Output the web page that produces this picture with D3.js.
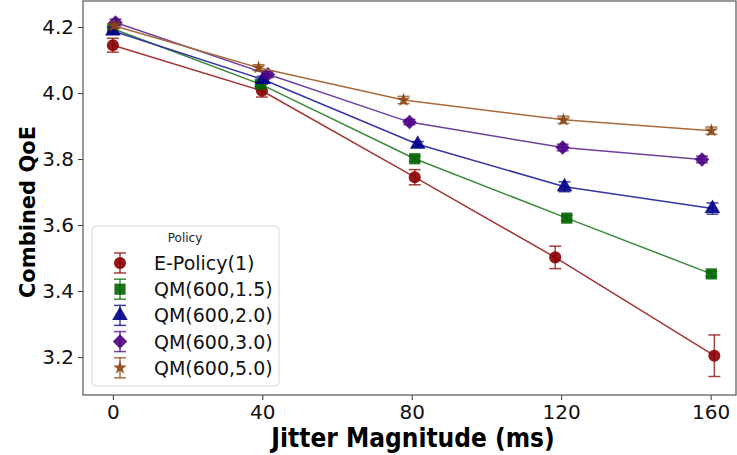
<!DOCTYPE html>
<html>
<head>
<meta charset="utf-8">
<script src="https://cdn.jsdelivr.net/npm/d3@7"></script>
<style>
  body { margin: 0; background: #fff; }
  .canvas svg { display: block; }
  text { font-family: "DejaVu Sans", sans-serif; }
</style>
</head>
<body>
<div class="canvas"></div>
<script>
// data
const policies = ['E-Policy(1)', 'QM(600,1.5)', 'QM(600,2.0)', 'QM(600,3.0)', 'QM(600,5.0)'];
const xTicks = [0, 40, 80, 120, 160];
const yTicks = [3.2, 3.4, 3.6, 3.8, 4.0, 4.2];

// jittered x positions of each point (ms)
const xEPolicy = [0, 39.9, 80.8, 118.4, 161.0];
const xQM15 = [0, 39.5, 80.8, 121.5, 160.2];
const xQM20 = [0, 40.2, 81.6, 120.9, 160.5];
const xQM30 = [0.7, 41.5, 79.4, 120.4, 157.7];
const xQM50 = [0.3, 39.0, 77.8, 120.6, 160.2];

// mean values
const yEPolicy = [4.145, 4.007, 3.745, 3.502, 3.204];
const yQM15 = [4.195, 4.027, 3.801, 3.621, 3.452];
const yQM20 = [4.188, 4.041, 3.845, 3.716, 3.650];
const yQM30 = [4.214, 4.057, 3.912, 3.835, 3.799];
const yQM50 = [4.204, 4.077, 3.979, 3.919, 3.886];

// error bar half widths
const eEPolicy = [0.021, 0.019, 0.023, 0.034, 0.063];
const eQM15 = [0.008, 0.008, 0.008, 0.008, 0.008];
const eQM20 = [0.010, 0.010, 0.008, 0.015, 0.017];
const eQM30 = [0.010, 0.010, 0.008, 0.010, 0.010];
const eQM50 = [0.008, 0.009, 0.011, 0.011, 0.011];

const series = [
  {name: policies[0], x: xEPolicy, y: yEPolicy, e: eEPolicy, marker: 'circle',   color: '#8b0000', line: '#a33535'},
  {name: policies[1], x: xQM15,    y: yQM15,    e: eQM15,    marker: 'square',   color: '#006400', line: '#3a8a3a'},
  {name: policies[2], x: xQM20,    y: yQM20,    e: eQM20,    marker: 'triangle', color: '#00008b', line: '#3535a3'},
  {name: policies[3], x: xQM30,    y: yQM30,    e: eQM30,    marker: 'diamond',  color: '#4b0082', line: '#7040a0'},
  {name: policies[4], x: xQM50,    y: yQM50,    e: eQM50,    marker: 'star',     color: '#8b4513', line: '#a86a3c'}
];

const margin = {top: 1, right: 1, bottom: 60, left: 83};
const width = 737, height = 455;
const graphWidth = width - margin.left - margin.right;
const graphHeight = height - margin.top - margin.bottom;

const svg = d3.select('.canvas')
    .append('svg')
    .attr('width', width)
    .attr('height', height);

const graph = svg.append('g')
    .attr('transform', `translate(${margin.left}, ${margin.top})`);

// scales
const x = d3.scaleLinear().domain([-8, 166.8]).range([0, graphWidth]);
const y = d3.scaleLinear().domain([3.085, 4.279]).range([graphHeight, 0]);

// symbol shapes (diamond = square turned 45deg, like matplotlib 'D')
const symbolOf = {
  circle: d3.symbol(d3.symbolCircle, 115),
  square: d3.symbol(d3.symbolSquare, 125),
  triangle: d3.symbol(d3.symbolTriangle, 105),
  diamond: d3.symbol(d3.symbolSquare, 105),
  star: d3.symbol(d3.symbolStar, 60)
};
const rot = m => (m === 'diamond' ? ' rotate(45)' : '');

const line = d3.line()
    .x(d => x(d.x))
    .y(d => y(d.y));

series.forEach(s => {
  const pts = s.x.map((v, i) => ({x: v, y: s.y[i], e: s.e[i]}));
  const g = graph.append('g');

  g.append('path')
      .datum(pts)
      .attr('fill', 'none')
      .attr('stroke', s.line)
      .attr('stroke-width', 1.5)
      .attr('d', line);

  // error bars
  const eb = g.selectAll('.eb').data(pts).enter().append('g')
      .attr('stroke', s.color)
      .attr('stroke-opacity', 0.75)
      .attr('stroke-width', 1.5);
  eb.append('line')
      .attr('x1', d => x(d.x)).attr('x2', d => x(d.x))
      .attr('y1', d => y(d.y - d.e)).attr('y2', d => y(d.y + d.e));
  eb.append('line')
      .attr('x1', d => x(d.x) - 6).attr('x2', d => x(d.x) + 6)
      .attr('y1', d => y(d.y - d.e)).attr('y2', d => y(d.y - d.e));
  eb.append('line')
      .attr('x1', d => x(d.x) - 6).attr('x2', d => x(d.x) + 6)
      .attr('y1', d => y(d.y + d.e)).attr('y2', d => y(d.y + d.e));

  g.selectAll('.pt').data(pts).enter().append('path')
      .attr('transform', d => `translate(${x(d.x)},${y(d.y)})` + rot(s.marker))
      .attr('d', symbolOf[s.marker])
      .attr('fill', s.color)
      .attr('fill-opacity', 0.9);
});

// axes
const xAxis = d3.axisBottom(x).tickValues(xTicks).tickSize(5).tickPadding(5);
const yAxis = d3.axisLeft(y).tickValues(yTicks).tickFormat(d3.format('.1f')).tickSize(5).tickPadding(4);

const xAxisGroup = graph.append('g')
    .attr('transform', `translate(0, ${graphHeight})`)
    .call(xAxis);
const yAxisGroup = graph.append('g').call(yAxis);

[xAxisGroup, yAxisGroup].forEach(a => {
  a.select('.domain').remove();
  a.selectAll('.tick line').attr('stroke', '#333').attr('stroke-width', 1);
  a.selectAll('.tick text').attr('fill', '#111').style('font-size', '20px');
});

// frame
graph.append('rect')
    .attr('width', graphWidth)
    .attr('height', graphHeight)
    .attr('fill', 'none')
    .attr('stroke', '#555')
    .attr('stroke-width', 1.2);

// axis labels
svg.append('text')
    .attr('x', 413)
    .attr('y', 447)
    .attr('text-anchor', 'middle')
    .style('font-family', '"DejaVu Sans Condensed", "DejaVu Sans", sans-serif')
    .style('font-weight', 'bold')
    .style('font-size', '26px')
    .text('Jitter Magnitude (ms)');

svg.append('text')
    .attr('transform', `translate(35, 212) rotate(-90)`)
    .attr('text-anchor', 'middle')
    .style('font-weight', 'bold')
    .style('font-size', '21px')
    .text('Combined QoE');

// legend
const legend = svg.append('g').attr('transform', 'translate(92, 226)');
legend.append('rect')
    .attr('width', 187)
    .attr('height', 160)
    .attr('rx', 4)
    .attr('fill', '#fff')
    .attr('fill-opacity', 0.85)
    .attr('stroke', '#d8d8d8');
legend.append('text')
    .attr('x', 93)
    .attr('y', 16)
    .attr('text-anchor', 'middle')
    .style('font-size', '12px')
    .attr('fill', '#222')
    .text('Policy');

series.forEach((s, i) => {
  const cy = 37 + i * 26.2;
  const item = legend.append('g').attr('transform', `translate(28, ${cy})`);
  item.append('g')
      .attr('stroke', s.color)
      .attr('stroke-opacity', 0.75)
      .attr('stroke-width', 1.5)
      .call(g => {
        g.append('line').attr('y1', -10).attr('y2', 10);
        g.append('line').attr('x1', -6).attr('x2', 6).attr('y1', -10).attr('y2', -10);
        g.append('line').attr('x1', -6).attr('x2', 6).attr('y1', 10).attr('y2', 10);
      });
  item.append('path')
      .attr('d', symbolOf[s.marker])
      .attr('transform', rot(s.marker) || null)
      .attr('fill', s.color)
      .attr('fill-opacity', 0.9);
  legend.append('text')
      .attr('x', 62)
      .attr('y', cy + 7)
      .style('font-size', '19px')
      .attr('fill', '#111')
      .text(s.name);
});
</script>
</body>
</html>
